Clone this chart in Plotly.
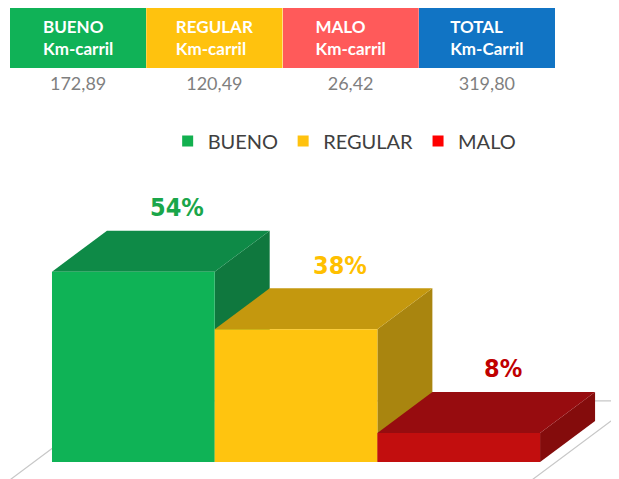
import plotly.graph_objects as go

# ---- data ----
categories = ["BUENO", "REGULAR", "MALO"]
km_carril = [172.89, 120.49, 26.42]
table_headers = ["BUENO", "REGULAR", "MALO", "TOTAL"]
table_units = ["Km-carril", "Km-carril", "Km-carril", "Km-Carril"]

total_km = round(sum(km_carril), 2)
share_pct = [v / total_km * 100 for v in km_carril]

# ---- styles ----
front_colors = ["#0fb356", "#ffc40f", "#c20e0e"]
top_colors = ["#0e8a47", "#c4980e", "#970c0f"]
side_colors = ["#0f783e", "#a9850f", "#840c0c"]
legend_colors = ["#12b04f", "#ffc20e", "#ff0000"]
label_colors = ["#1aa64a", "#ffc000", "#c00000"]
header_colors = ["#10b257", "#ffc20e", "#ff5a5a", "#1174c4"]

W, H = 611, 471   # page body adds an 8px margin
DX = 0.338   # depth offset in x units
DY = 11.65   # depth offset in y units
HALF = 0.5

fig = go.Figure()

# floor outline
xL, xR = -0.611, 2.598
t_back, t_front = 1.488, -1.0
fig.add_trace(go.Scatter(
    x=[xL + t_front * DX, xL + t_back * DX, xR + t_back * DX, xR + t_front * DX],
    y=[t_front * DY, t_back * DY, t_back * DY, t_front * DY],
    mode="lines", line=dict(color="#c8c8c8", width=1.2),
    hoverinfo="skip", showlegend=False))

for i, (cat, v) in enumerate(zip(categories, share_pct)):
    x0, x1 = i - HALF, i + HALF
    # side face
    fig.add_trace(go.Scatter(
        x=[x1, x1 + DX, x1 + DX, x1, x1], y=[0, DY, v + DY, v, 0],
        fill="toself", fillcolor=side_colors[i], mode="lines",
        line=dict(width=0, color=side_colors[i]), hoverinfo="skip", showlegend=False))
    # top face
    fig.add_trace(go.Scatter(
        x=[x0, x1, x1 + DX, x0 + DX, x0], y=[v, v, v + DY, v + DY, v],
        fill="toself", fillcolor=top_colors[i], mode="lines",
        line=dict(width=0, color=top_colors[i]), hoverinfo="skip", showlegend=False))
    # front face
    fig.add_trace(go.Scatter(
        x=[x0, x1, x1, x0, x0], y=[0, 0, v, v, 0],
        fill="toself", fillcolor=front_colors[i], mode="lines",
        line=dict(width=0, color=front_colors[i]), hoverinfo="text",
        text=f"{cat}: {v:.0f}%", showlegend=False))
    fig.add_annotation(
        x=i + 0.27, y=v + DY, xref="x", yref="y", yanchor="middle", yshift=23,
        text=f"<b>{round(v)}%</b>", showarrow=False,
        font=dict(family="DejaVu Sans Condensed, Roboto, sans-serif", size=25,
                  color=label_colors[i]))

# legend entries
for i, cat in enumerate(categories):
    fig.add_trace(go.Scatter(
        x=[None], y=[None], mode="markers", name=cat,
        marker=dict(symbol="square", size=11, color=legend_colors[i])))

# table
fmt = lambda v: f"{v:.2f}".replace(".", ",")
values = [fmt(v) for v in km_carril] + [fmt(total_km)]
fig.add_trace(go.Table(
    domain=dict(x=[2 / W, 547 / W], y=[1 - 92 / H, 1.0]),
    columnwidth=[1, 1, 1, 1],
    header=dict(
        values=[f"<b>{h}</b><br><b>{u}</b>" for h, u in zip(table_headers, table_units)],
        fill=dict(color=header_colors),
        line=dict(width=0, color=header_colors),
        font=dict(family="Lato, sans-serif", size=17, color="white"),
        align="center", height=60),
    cells=dict(
        values=[[s] for s in values],
        fill=dict(color="white"),
        line=dict(width=0, color="white"),
        font=dict(family="Lato, sans-serif", size=18, color="#7f7f7f"),
        align="center", height=27),
))

fig.update_layout(
    width=W, height=H,
    margin=dict(l=0, r=0, t=0, b=0),
    paper_bgcolor="white", plot_bgcolor="white",
    xaxis=dict(range=[-0.7704, 2.985], domain=[0, 1], visible=False, fixedrange=True),
    yaxis=dict(range=[-4.83, 82.95], domain=[0, 309 / H], visible=False, fixedrange=True),
    legend=dict(orientation="h", x=0.551, xanchor="center", y=1 - 133 / H, yanchor="middle",
                font=dict(family="Lato, sans-serif", size=20, color="#404040"),
                itemwidth=30, bgcolor="rgba(0,0,0,0)"),
    showlegend=True,
)

fig.write_html("out.html")
